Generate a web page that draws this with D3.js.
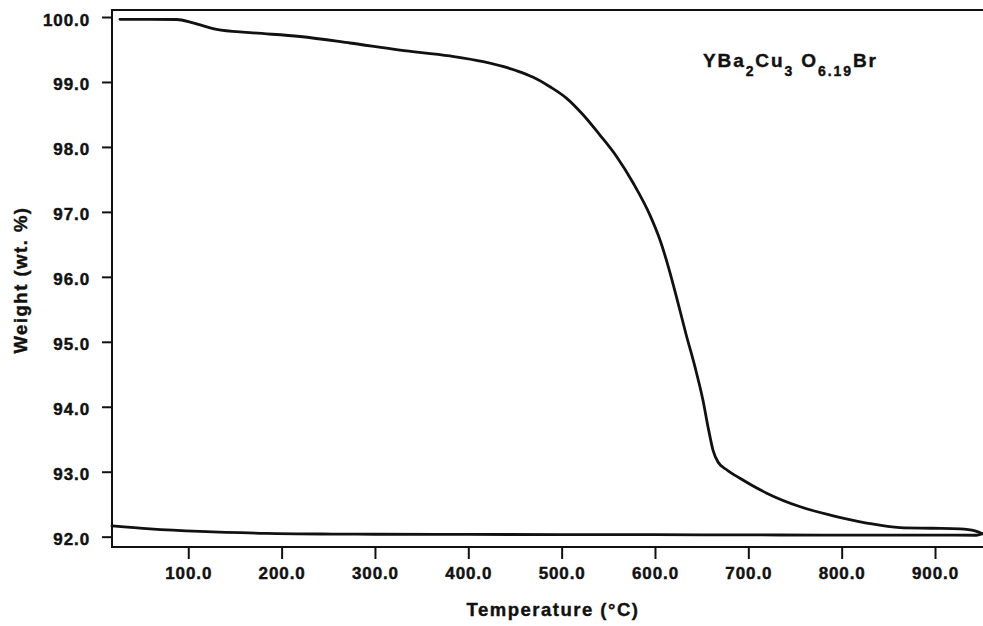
<!DOCTYPE html>
<html>
<head>
<meta charset="utf-8">
<script src="https://cdn.jsdelivr.net/npm/d3@7"></script>
<style>
  body { margin: 0; background: #fff; }
  svg { display: block; font-family: "Liberation Sans", Arial, Helvetica, sans-serif; font-weight: bold; }
</style>
</head>
<body>
<div id="chart"></div>
<script>
// heating run (temperature °C, weight %)
const heatT = [26.8, 60, 87.6, 105, 130.4, 166.1, 219.7, 273.2, 326.8, 380.4, 416.1, 451.8, 469.6, 487.5,
  505.4, 523.2, 541, 559, 576.8, 594.6, 605.3, 615, 624.3, 633.2, 642.9, 651.4, 657.5, 662.2, 667.5,
  676.8, 691, 719.7, 755.7, 791, 826.8, 862.5, 897.9, 926.7, 942.8, 950.8];
const heatW = [99.965, 99.965, 99.962, 99.91, 99.81, 99.76, 99.70, 99.60, 99.49, 99.40, 99.312, 99.173, 99.072, 98.927,
  98.748, 98.491, 98.183, 97.849, 97.44, 96.95, 96.57, 96.12, 95.62, 95.12, 94.61, 94.10, 93.64, 93.33, 93.15,
  93.03, 92.90, 92.67, 92.46, 92.32, 92.21, 92.14, 92.13, 92.12, 92.09, 92.045];
// cooling run back down
const coolT = [950.8, 944, 900, 800, 700, 600, 500, 400, 300, 255, 184, 112.5, 59, 18.3];
const coolW = [92.045, 92.022, 92.025, 92.025, 92.027, 92.03, 92.032, 92.035, 92.037, 92.04, 92.05, 92.08, 92.12, 92.165];

const xTicks = [100, 200, 300, 400, 500, 600, 700, 800, 900];
const yTicks = [92, 93, 94, 95, 96, 97, 98, 99, 100];

const width = 983, height = 626;
const margin = { top: 10, right: 0, bottom: 79, left: 112 };

const svg = d3.select("#chart").append("svg")
  .attr("width", width)
  .attr("height", height);

const x = d3.scaleLinear().domain([18.3, 951.4]).range([margin.left, width - margin.right]);
const y = d3.scaleLinear().domain([91.841, 100.108]).range([height - margin.bottom, margin.top]);

const heat = heatT.map((t, i) => [t, heatW[i]]);
const cool = coolT.map((t, i) => [t, coolW[i]]);

// frame (left, top, bottom)
const x0 = x.range()[0], x1 = x.range()[1] + 2, y0 = y.range()[1], y1 = y.range()[0];
svg.append("path")
  .attr("d", `M${x1},${y0}H${x0}V${y1}H${x1}`)
  .attr("fill", "none")
  .attr("stroke", "#111")
  .attr("stroke-width", 2);

const xAxis = svg.append("g")
  .attr("transform", `translate(0,${y1})`)
  .call(d3.axisBottom(x).tickValues(xTicks).tickFormat(d3.format(".1f")).tickSize(12).tickPadding(8));
const yAxis = svg.append("g")
  .attr("transform", `translate(${x0},0)`)
  .call(d3.axisLeft(y).tickValues(yTicks).tickFormat(d3.format(".1f")).tickSize(10).tickPadding(12));

[xAxis, yAxis].forEach(g => {
  g.select(".domain").remove();
  g.selectAll(".tick line").attr("stroke", "#111").attr("stroke-width", 2);
  g.selectAll(".tick text")
    .attr("fill", "#111")
    .attr("stroke", "#111")
    .attr("stroke-width", 0.45)
    .style("font-size", "17px")
    .style("font-family", "'Liberation Sans', Arial, sans-serif")
    .style("font-weight", "bold")
    .style("letter-spacing", "0.9px");
});
yAxis.selectAll(".tick text").attr("dy", "0.47em");

const line = d3.line().x(d => x(d[0])).y(d => y(d[1])).curve(d3.curveMonotoneX);
[heat, cool].forEach(run => {
  svg.append("path")
    .datum(run)
    .attr("d", line)
    .attr("fill", "none")
    .attr("stroke", "#111")
    .attr("stroke-width", 2.8)
    .attr("stroke-linejoin", "round")
    .attr("stroke-linecap", "round");
});

// axis titles
svg.append("text")
  .attr("x", 553).attr("y", 616)
  .attr("text-anchor", "middle")
  .attr("stroke", "#111").attr("stroke-width", 0.4)
  .style("font-size", "18.5px")
  .style("letter-spacing", "1.5px")
  .attr("fill", "#111")
  .text("Temperature (°C)");

svg.append("text")
  .attr("transform", "translate(27,280) rotate(-90)")
  .attr("text-anchor", "middle")
  .attr("stroke", "#111").attr("stroke-width", 0.4)
  .style("font-size", "18.5px")
  .style("letter-spacing", "1.5px")
  .attr("fill", "#111")
  .text("Weight (wt. %)");

// formula label
const f = svg.append("text")
  .attr("x", 703).attr("y", 67)
  .attr("stroke", "#111").attr("stroke-width", 0.4)
  .style("font-size", "19px")
  .style("letter-spacing", "1.9px")
  .attr("fill", "#111");
const parts = [["YBa", 0], ["2", 1], ["Cu", 0], ["3", 1], [" O", 0], ["6.19", 1], ["Br", 0]];
let sub = 0;
parts.forEach(([s, isSub]) => {
  const dy = isSub && !sub ? 9 : (!isSub && sub ? -9 : 0);
  f.append("tspan")
    .attr("dy", dy)
    .style("font-size", isSub ? "14px" : "19px")
    .text(s);
  sub = isSub;
});
</script>
</body>
</html>
